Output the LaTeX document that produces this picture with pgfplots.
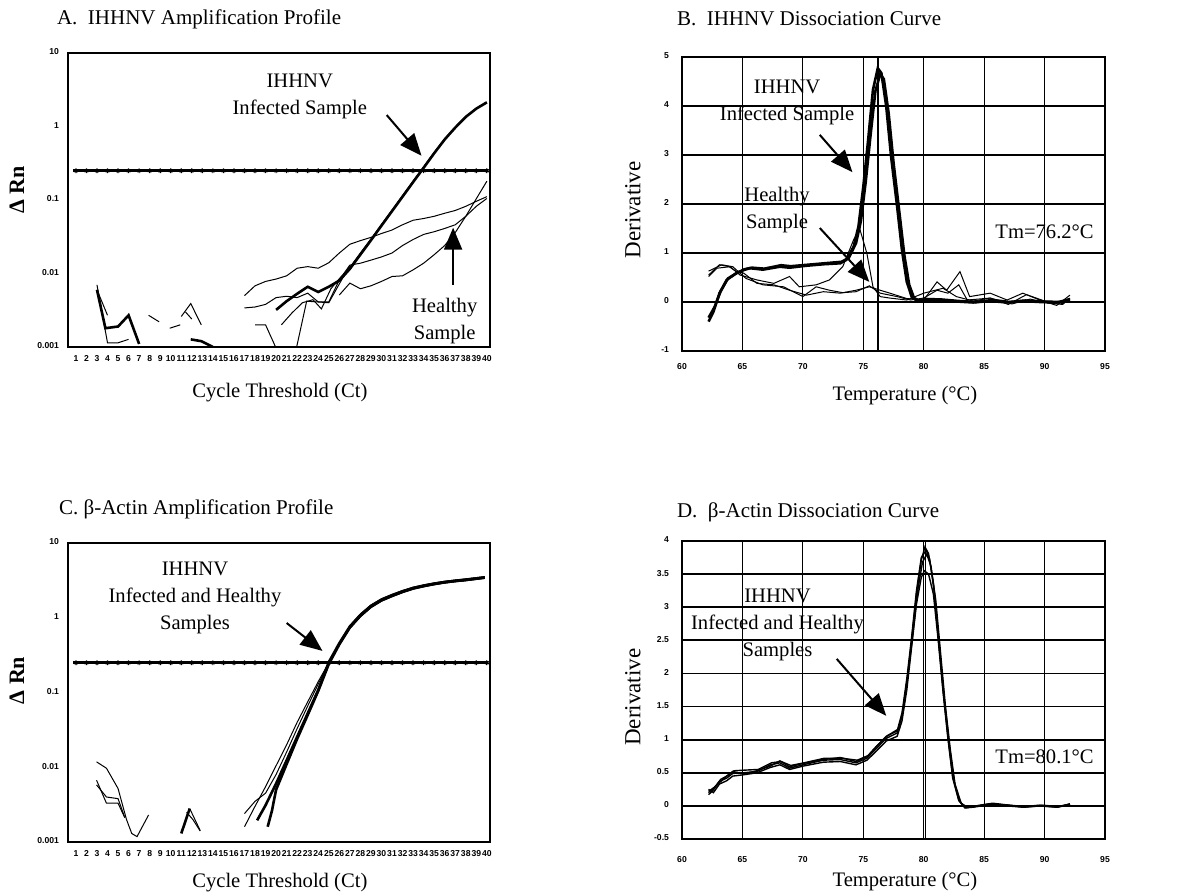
\documentclass[border=0pt]{standalone}
\usepackage{fontspec}
\setmainfont{Liberation Serif}
\newfontfamily\tickfont{Liberation Sans}
\usepackage{pgfplots}
\pgfplotsset{compat=1.18}
\usetikzlibrary{arrows.meta}

\tikzset{
  thinL/.style={black, line width=0.5pt},
  thickL/.style={black, line width=1.3pt},
  arr/.style={-{Triangle[length=11pt,width=9pt]}, line width=1pt},
  note/.style={font=\fontsize{10.3}{13.5}\selectfont, align=center},
}

\begin{document}
\begin{tikzpicture}
\useasboundingbox (0,0) rectangle (589.5pt,446.5pt);

\node[anchor=west, font=\fontsize{10.5}{12}\selectfont] at (25pt,437pt) {A.\ \ IHHNV Amplification Profile};
\node[anchor=west, font=\fontsize{10.5}{12}\selectfont] at (335pt,437pt) {B.\ \ IHHNV Dissociation Curve};
\node[anchor=west, font=\fontsize{10.5}{12}\selectfont] at (26pt,192pt) {C. β-Actin Amplification Profile};
\node[anchor=west, font=\fontsize{10.5}{12}\selectfont] at (335pt,190.5pt) {D.\ \ β-Actin Dissociation Curve};

% ---------------- A ----------------
\begin{axis}[at={(34pt,273pt)}, anchor=south west, scale only axis, width=211pt, height=147pt,
  ymode=log, ymin=0.001, ymax=10, xmin=0.25, xmax=40.3, clip=true,
  xtick={1,...,40}, ytick={0.001,0.01,0.1,1,10}, yticklabels={0.001,0.01,0.1,1,10},
  tick style={draw=none}, axis line style={line width=1.1pt},
  /pgf/number format/assume math mode=true, typeset ticklabels with strut,
  tick label style={font=\tickfont\bfseries\fontsize{4.3}{5}\selectfont},
  xticklabel style={yshift=-3.8pt, inner sep=0pt},
  yticklabel style={xshift=-1pt},
  xlabel={Cycle Threshold (Ct)}, ylabel={\textbf{Δ Rn}},
  xlabel style={font=\fontsize{10.3}{12}\selectfont, at={(axis description cs:0.502,-0.156)}, anchor=center},
  ylabel style={font=\fontsize{11}{12}\selectfont, at={(axis description cs:-0.121,0.534)}, anchor=center}]
\addplot[line width=1.3pt] coordinates {(0.75,0.25) (40.15,0.25)};
\addplot[only marks, mark=asterisk, mark size=1.2pt, mark options={line width=0.6pt}] coordinates {
(1,0.25) (2,0.25) (3,0.25) (4,0.25) (5,0.25) (6,0.25) (7,0.25) (8,0.25) (9,0.25) (10,0.25)
(11,0.25) (12,0.25) (13,0.25) (14,0.25) (15,0.25) (16,0.25) (17,0.25) (18,0.25) (19,0.25) (20,0.25)
(21,0.25) (22,0.25) (23,0.25) (24,0.25) (25,0.25) (26,0.25) (27,0.25) (28,0.25) (29,0.25) (30,0.25)
(31,0.25) (32,0.25) (33,0.25) (34,0.25) (35,0.25) (36,0.25) (37,0.25) (38,0.25) (39,0.25) (40,0.25)};
% infected
\addplot[thickL] coordinates {(20,0.0032) (21,0.0042) (22,0.0053) (23,0.0066) (24,0.0056) (25,0.0066)
 (26,0.0080) (27,0.01155) (28,0.0181) (29,0.0283) (30,0.0448) (31,0.0705) (32,0.111) (33,0.175)
 (34,0.274) (35,0.432) (36,0.666) (37,0.965) (38,1.35) (39,1.75) (40,2.13)};
\addplot[thinL] coordinates {(20.5,0.0020) (21.5,0.0029) (22.5,0.0040) (23.5,0.0044) (24.3,0.0033) (25.2,0.0062)
 (26,0.0085) (27,0.0121) (28,0.0190) (29,0.0295) (30,0.0465) (31,0.0730) (32,0.115) (33,0.181)
 (34,0.283) (35,0.445) (36,0.68) (37,0.98) (38,1.37) (39,1.77) (40,2.15)};
% healthy
\addplot[thinL] coordinates {(17,0.0050) (18,0.0068) (19,0.0078) (20,0.0084) (21,0.0093) (22,0.0118)
 (23,0.0124) (24,0.0118) (25,0.014) (26,0.019) (27,0.025) (28,0.028) (29,0.031) (30,0.035) (31,0.039)
 (32,0.046) (33,0.053) (34,0.056) (35,0.060) (36,0.066) (37,0.072) (38,0.082) (39,0.096) (40,0.111)};
\addplot[thinL] coordinates {(17,0.0034) (18,0.0035) (19,0.0038) (20,0.0047) (21,0.0049) (22,0.0047)
 (23,0.0054) (24,0.0041) (25,0.0041) (26,0.0082) (27,0.013) (28,0.0138) (29,0.0152) (30,0.0168)
 (31,0.019) (32,0.024) (33,0.029) (34,0.034) (35,0.037) (36,0.041) (37,0.046) (38,0.060) (39,0.082) (40,0.105)};
\addplot[thinL] coordinates {(26,0.0051) (27,0.0074) (28,0.0062) (29,0.0068) (30,0.0078) (31,0.0091)
 (32,0.0093) (33,0.0112) (34,0.0138) (35,0.018) (36,0.024) (37,0.036) (38,0.060) (39,0.104) (40,0.18)};
\addplot[thinL] coordinates {(18,0.0020) (19,0.0020) (19.95,0.001)};
\addplot[thinL] coordinates {(21.95,0.001) (22.9,0.0042) (25,0.0040) (27,0.013)};
% early noise
\addplot[thickL] coordinates {(3,0.0060) (3.8,0.0018) (5,0.0019) (6,0.0027) (7,0.0011)};
\addplot[thinL] coordinates {(3,0.0070) (4,0.00114) (5,0.00114) (6,0.00127)};
\addplot[thinL] coordinates {(3,0.0060) (4,0.0027)};
\addplot[thinL] coordinates {(7.9,0.0027) (8.9,0.0022)};
\addplot[thinL] coordinates {(9.9,0.0018) (10.9,0.0020)};
\addplot[thinL] coordinates {(11,0.0026) (11.9,0.0039) (12.9,0.0020)};
\addplot[thinL] coordinates {(11.4,0.0030) (12,0.0024)};
\addplot[thickL] coordinates {(11.9,0.00127) (12.9,0.0012) (14,0.001)};
\node[note] at (axis cs:22.25,2.56) {IHHNV\\Infected Sample};
\draw[arr] (axis cs:30.5,1.43) -- (axis cs:33.8,0.40);
\node[note] at (axis cs:36.0,0.00222) {Healthy\\Sample};
\draw[arr] (axis cs:36.8,0.00698) -- (axis cs:36.8,0.042);
\end{axis}

% ---------------- B ----------------
\begin{axis}[at={(341pt,271pt)}, anchor=south west, scale only axis, width=211.5pt, height=147pt,
  xmin=60, xmax=95, ymin=-1, ymax=5, clip=true,
  xtick={60,65,...,95}, ytick={-1,0,...,5},
  grid=major, major x grid style={black, line width=0.5pt}, major y grid style={black, line width=0.9pt},
  tick style={draw=none}, axis line style={line width=0.8pt},
  /pgf/number format/assume math mode=true, typeset ticklabels with strut,
  tick label style={font=\tickfont\bfseries\fontsize{4.3}{5}\selectfont},
  xticklabel style={yshift=-2.3pt}, yticklabel style={xshift=-3pt},
  xlabel={Temperature (°C)}, ylabel={Derivative},
  xlabel style={font=\fontsize{10.3}{12}\selectfont, at={(axis description cs:0.527,-0.15)}, anchor=center},
  ylabel style={font=\fontsize{11.5}{12}\selectfont, at={(axis description cs:-0.116,0.48)}, anchor=center}]
\addplot[line width=0.9pt] coordinates {(76.25,-1) (76.25,5)};
\addplot[thickL] coordinates {(62.2,-0.40) (62.6,-0.2) (63.1,0.18) (63.7,0.45) (64.5,0.59) (65.1,0.65)
 (65.6,0.69) (66.7,0.66) (68.1,0.72) (68.9,0.70) (70.3,0.74) (71.7,0.77) (73.1,0.79) (73.6,0.86)
 (74.2,1.13) (74.6,1.54) (75.0,2.35) (75.4,3.3) (75.8,4.33) (76.2,4.77) (76.5,4.67) (76.9,3.99)
 (77.3,2.97) (77.8,1.95) (78.2,1.06) (78.6,0.41) (79.0,0.11) (79.5,0.01) (80.1,0.04) (81.3,0.04)
 (82.7,0.01) (84.1,-0.01) (85.5,0.02) (86.9,-0.01) (88.2,0.02) (89.6,0.0) (91.0,-0.01) (92.1,0.04)};
\addplot[thickL] coordinates {(62.2,-0.32) (62.7,-0.1) (63.2,0.22) (63.8,0.48) (64.6,0.60) (65.2,0.67)
 (65.8,0.70) (66.8,0.68) (68.2,0.75) (69.0,0.73) (70.4,0.76) (71.8,0.79) (73.2,0.82) (73.8,0.90)
 (74.4,1.20) (74.8,1.65) (75.2,2.45) (75.6,3.4) (76.0,4.3) (76.4,4.65) (76.7,4.55) (77.1,3.85)
 (77.5,2.85) (78.0,1.80) (78.4,0.95) (78.8,0.35) (79.2,0.08) (79.7,0.02) (80.3,0.06) (81.5,0.05)
 (82.9,0.02) (84.3,0.0) (85.7,0.04) (87.1,0.0) (88.4,0.03) (89.8,0.01) (91.2,0.0) (92.1,0.06)};
\addplot[thinL] coordinates {(62.2,0.55) (63.1,0.76) (63.9,0.72) (64.5,0.62) (65.1,0.59) (66.2,0.38)
 (67.6,0.35) (68.9,0.24) (70.3,0.14) (71.7,0.21) (73.1,0.18) (74.4,0.24) (75.5,0.31) (76.4,0.24)
 (77.2,0.18) (78.6,0.07) (80.0,0.04) (81.1,0.41) (81.9,0.24) (83.0,0.62) (83.8,0.11) (85.5,0.18)
 (86.9,0.04) (88.2,0.18) (89.6,0.04) (91.0,-0.07) (92.1,0.14)};
\addplot[thinL] coordinates {(62.2,0.52) (62.9,0.69) (64.0,0.72) (64.8,0.55) (66.2,0.45) (67.6,0.38)
 (68.9,0.52) (69.7,0.31) (71.1,0.35) (72.2,0.45) (73.3,0.72) (74.2,1.27) (74.7,1.50) (75.3,0.99)
 (75.8,0.31) (76.4,0.11) (77.2,0.08) (78.6,0.04) (80.0,0.18) (81.6,0.28) (82.7,0.11) (84.1,0.02)
 (85.5,0.08) (87.0,-0.05) (88.5,0.15) (90.0,0.02) (91.5,-0.03) (92.1,0.06)};
\addplot[thinL] coordinates {(62.2,0.63) (63.3,0.76) (64.2,0.72) (65.3,0.48) (66.7,0.35) (68.4,0.31)
 (70.0,0.11) (71.1,0.31) (72.2,0.24) (73.3,0.19) (74.4,0.21) (75.5,0.33) (76.4,0.18) (77.8,0.11)
 (78.9,0.04) (80.0,0.08) (81.1,0.24) (82.0,0.18) (82.9,0.35) (83.6,0.04) (85.5,0.08) (87.3,-0.04)
 (88.8,0.06) (90.2,-0.02) (91.5,-0.05) (92.1,0.08)};
\node[note] at (axis cs:68.7,4.08) {IHHNV\\Infected Sample};
\draw[arr] (axis cs:71.4,3.41) -- (axis cs:74.1,2.65);
\node[note] at (axis cs:67.86,1.88) {Healthy\\Sample};
\draw[arr] (axis cs:71.4,1.51) -- (axis cs:75.5,0.41);
\node[note] at (axis cs:90.0,1.43) {Tm=76.2°C};
\end{axis}

% ---------------- C ----------------
\begin{axis}[at={(34pt,25.5pt)}, anchor=south west, scale only axis, width=211pt, height=149.5pt,
  ymode=log, ymin=0.001, ymax=10, xmin=0.25, xmax=40.3, clip=true,
  xtick={1,...,40}, ytick={0.001,0.01,0.1,1,10}, yticklabels={0.001,0.01,0.1,1,10},
  tick style={draw=none}, axis line style={line width=1.1pt},
  /pgf/number format/assume math mode=true, typeset ticklabels with strut,
  tick label style={font=\tickfont\bfseries\fontsize{4.3}{5}\selectfont},
  xticklabel style={yshift=-3.8pt, inner sep=0pt},
  yticklabel style={xshift=-1pt},
  xlabel={Cycle Threshold (Ct)}, ylabel={\textbf{Δ Rn}},
  xlabel style={font=\fontsize{10.3}{12}\selectfont, at={(axis description cs:0.502,-0.137)}, anchor=center},
  ylabel style={font=\fontsize{11}{12}\selectfont, at={(axis description cs:-0.121,0.54)}, anchor=center}]
\addplot[line width=1.3pt] coordinates {(0.75,0.25) (40.15,0.25)};
\addplot[only marks, mark=asterisk, mark size=1.2pt, mark options={line width=0.6pt}] coordinates {
(1,0.25) (2,0.25) (3,0.25) (4,0.25) (5,0.25) (6,0.25) (7,0.25) (8,0.25) (9,0.25) (10,0.25)
(11,0.25) (12,0.25) (13,0.25) (14,0.25) (15,0.25) (16,0.25) (17,0.25) (18,0.25) (19,0.25) (20,0.25)
(21,0.25) (22,0.25) (23,0.25) (24,0.25) (25,0.25) (26,0.25) (27,0.25) (28,0.25) (29,0.25) (30,0.25)
(31,0.25) (32,0.25) (33,0.25) (34,0.25) (35,0.25) (36,0.25) (37,0.25) (38,0.25) (39,0.25) (40,0.25)};
\addplot[thickL] coordinates {(18.2,0.00195) (19,0.0031) (20,0.00605) (21,0.0124) (22,0.0256) (23,0.0526)
 (24,0.108) (25,0.254) (26,0.456) (27,0.764) (28,1.09) (29,1.44) (30,1.74) (31,1.99) (32,2.25) (33,2.50)
 (34,2.68) (35,2.85) (36,3.0) (37,3.12) (38,3.22) (39,3.36) (39.8,3.47)};
\addplot[thickL] coordinates {(19.2,0.0016) (19.6,0.0026) (20,0.0050) (21,0.0110) (22,0.024) (23,0.050)
 (24,0.105) (25,0.24) (26,0.44) (27,0.74) (28,1.06) (29,1.41) (30,1.71) (31,1.96) (32,2.22) (33,2.47)
 (34,2.66) (35,2.83) (36,2.98) (37,3.10) (38,3.20) (39,3.33) (39.8,3.44)};
\addplot[thinL] coordinates {(17,0.0016) (18,0.0030) (19,0.0055) (20,0.0105) (21,0.020) (22,0.040)
 (23,0.075) (24,0.14) (25,0.25) (26,0.44) (27,0.72) (28,1.03) (29,1.36) (30,1.66) (31,1.91) (32,2.16)
 (33,2.40) (34,2.58) (35,2.75) (36,2.90) (37,3.02) (38,3.12) (39,3.25) (39.8,3.36)};
\addplot[thinL] coordinates {(17,0.0024) (18,0.0035) (19,0.0045) (20,0.0080) (21,0.016) (22,0.033)
 (23,0.066) (24,0.13) (25,0.25) (26,0.46) (27,0.78) (28,1.12) (29,1.48) (30,1.80) (31,2.06) (32,2.32)
 (33,2.56) (34,2.76) (35,2.93) (36,3.08) (37,3.20) (38,3.32) (39,3.44) (39.8,3.55)};
\addplot[thinL] coordinates {(2.96,0.0118) (3.9,0.0097) (5.0,0.0052) (5.8,0.0020) (6.3,0.0013) (6.8,0.00118) (7.9,0.0023)};
\addplot[thinL] coordinates {(2.96,0.0067) (3.9,0.0033) (5.0,0.0033) (5.65,0.0021)};
\addplot[thinL] coordinates {(2.96,0.0058) (3.9,0.0040) (5.0,0.0038) (5.6,0.0022)};
\addplot[thickL] coordinates {(11.0,0.0013) (11.8,0.0028)};
\addplot[thinL] coordinates {(11.8,0.0028) (12.8,0.00142)};
\addplot[thinL] coordinates {(11.5,0.0025) (12.1,0.0020) (12.8,0.0014)};
\node[note] at (axis cs:12.3,1.84) {IHHNV\\Infected and Healthy\\Samples};
\draw[arr] (axis cs:21.0,0.85) -- (axis cs:24.4,0.36);
\end{axis}

% ---------------- D ----------------
\begin{axis}[at={(341pt,27pt)}, anchor=south west, scale only axis, width=211.5pt, height=149pt,
  xmin=60, xmax=95, ymin=-0.5, ymax=4, clip=true,
  xtick={60,65,...,95}, ytick={-0.5,0,...,4},
  grid=major, major x grid style={black, line width=0.5pt}, major y grid style={black, line width=0.9pt},
  tick style={draw=none}, axis line style={line width=0.8pt},
  /pgf/number format/assume math mode=true, typeset ticklabels with strut,
  tick label style={font=\tickfont\bfseries\fontsize{4.3}{5}\selectfont},
  xticklabel style={yshift=-4.8pt}, yticklabel style={xshift=-3pt},
  xlabel={Temperature (°C)}, ylabel={Derivative},
  xlabel style={font=\fontsize{10.3}{12}\selectfont, at={(axis description cs:0.527,-0.144)}, anchor=center},
  ylabel style={font=\fontsize{11.5}{12}\selectfont, at={(axis description cs:-0.116,0.476)}, anchor=center}]
\addplot[line width=0.9pt] coordinates {(80.15,-0.5) (80.15,4)};
\addplot[black, line width=0.7pt] coordinates {(62.2,0.17) (62.6,0.24) (63.1,0.37) (63.7,0.42) (64.2,0.49)
 (65.1,0.50) (66.2,0.52) (67.3,0.62) (68.1,0.65) (68.9,0.57) (70.0,0.62) (71.7,0.69) (73.1,0.70)
 (74.4,0.65) (75.3,0.72) (76.1,0.87) (76.9,1.02) (77.8,1.10) (78.2,1.35) (78.6,1.85) (79.0,2.5)
 (79.4,3.2) (79.8,3.71) (80.1,3.91) (80.4,3.81) (80.8,3.36) (81.2,2.55) (81.6,1.75) (82.0,1.05)
 (82.4,0.44) (82.9,0.09) (83.4,-0.03) (84.1,-0.02) (85.5,0.02) (86.9,0.0) (88.2,-0.02) (89.6,0.0)
 (91.0,-0.02) (92.1,0.02)};
\addplot[black, line width=0.7pt] coordinates {(62.2,0.22) (62.7,0.28) (63.2,0.40) (63.8,0.46) (64.3,0.53)
 (65.2,0.54) (66.3,0.55) (67.4,0.65) (68.2,0.67) (69.0,0.61) (70.1,0.65) (71.8,0.72) (73.2,0.72)
 (74.5,0.69) (75.4,0.76) (76.2,0.92) (77.0,1.06) (77.9,1.16) (78.3,1.45) (78.7,1.98) (79.1,2.6)
 (79.5,3.25) (79.9,3.68) (80.25,3.80) (80.6,3.62) (81.0,3.1) (81.4,2.3) (81.8,1.5) (82.2,0.85)
 (82.6,0.32) (83.1,0.04) (83.6,-0.02) (84.3,0.0) (85.7,0.04) (87.1,0.01) (88.4,-0.01) (89.8,0.01)
 (91.2,-0.01) (92.1,0.03)};
\addplot[black, line width=0.7pt] coordinates {(62.2,0.25) (62.6,0.20) (63.1,0.33) (63.7,0.38) (64.2,0.45)
 (65.1,0.47) (66.2,0.50) (67.3,0.58) (68.1,0.62) (68.9,0.55) (70.0,0.60) (71.7,0.66) (73.1,0.67)
 (74.4,0.62) (75.3,0.69) (76.1,0.83) (76.9,0.98) (77.8,1.05) (78.2,1.28) (78.6,1.75) (79.0,2.4)
 (79.4,3.05) (79.8,3.45) (80.05,3.55) (80.4,3.5) (80.8,3.2) (81.2,2.5) (81.6,1.72) (82.0,1.02)
 (82.4,0.42) (82.9,0.08) (83.4,-0.02) (84.1,-0.01) (85.5,0.03) (86.9,0.01) (88.2,-0.01) (89.6,0.01)
 (91.0,-0.01) (92.1,0.02)};
\addplot[black, line width=0.7pt] coordinates {(62.2,0.20) (62.6,0.27) (63.1,0.35) (63.7,0.45) (64.2,0.52)
 (65.1,0.48) (66.2,0.53) (67.3,0.60) (68.1,0.68) (68.9,0.59) (70.0,0.64) (71.7,0.70) (73.1,0.73)
 (74.4,0.67) (75.3,0.74) (76.1,0.90) (76.9,1.05) (77.8,1.13) (78.2,1.40) (78.6,1.92) (79.0,2.55)
 (79.4,3.25) (79.8,3.75) (80.2,3.86) (80.5,3.72) (80.9,3.2) (81.3,2.4) (81.7,1.62) (82.1,0.95)
 (82.5,0.38) (83.0,0.06) (83.5,-0.03) (84.2,-0.01) (85.6,0.03) (87.0,0.01) (88.3,-0.02) (89.7,0.0)
 (91.1,-0.02) (92.1,0.03)};
\node[note] at (axis cs:67.9,2.73) {IHHNV\\Infected and Healthy\\Samples};
\draw[arr] (axis cs:72.8,2.22) -- (axis cs:76.9,1.36);
\node[note] at (axis cs:90.0,0.74) {Tm=80.1°C};
\end{axis}
\end{tikzpicture}
\end{document}
